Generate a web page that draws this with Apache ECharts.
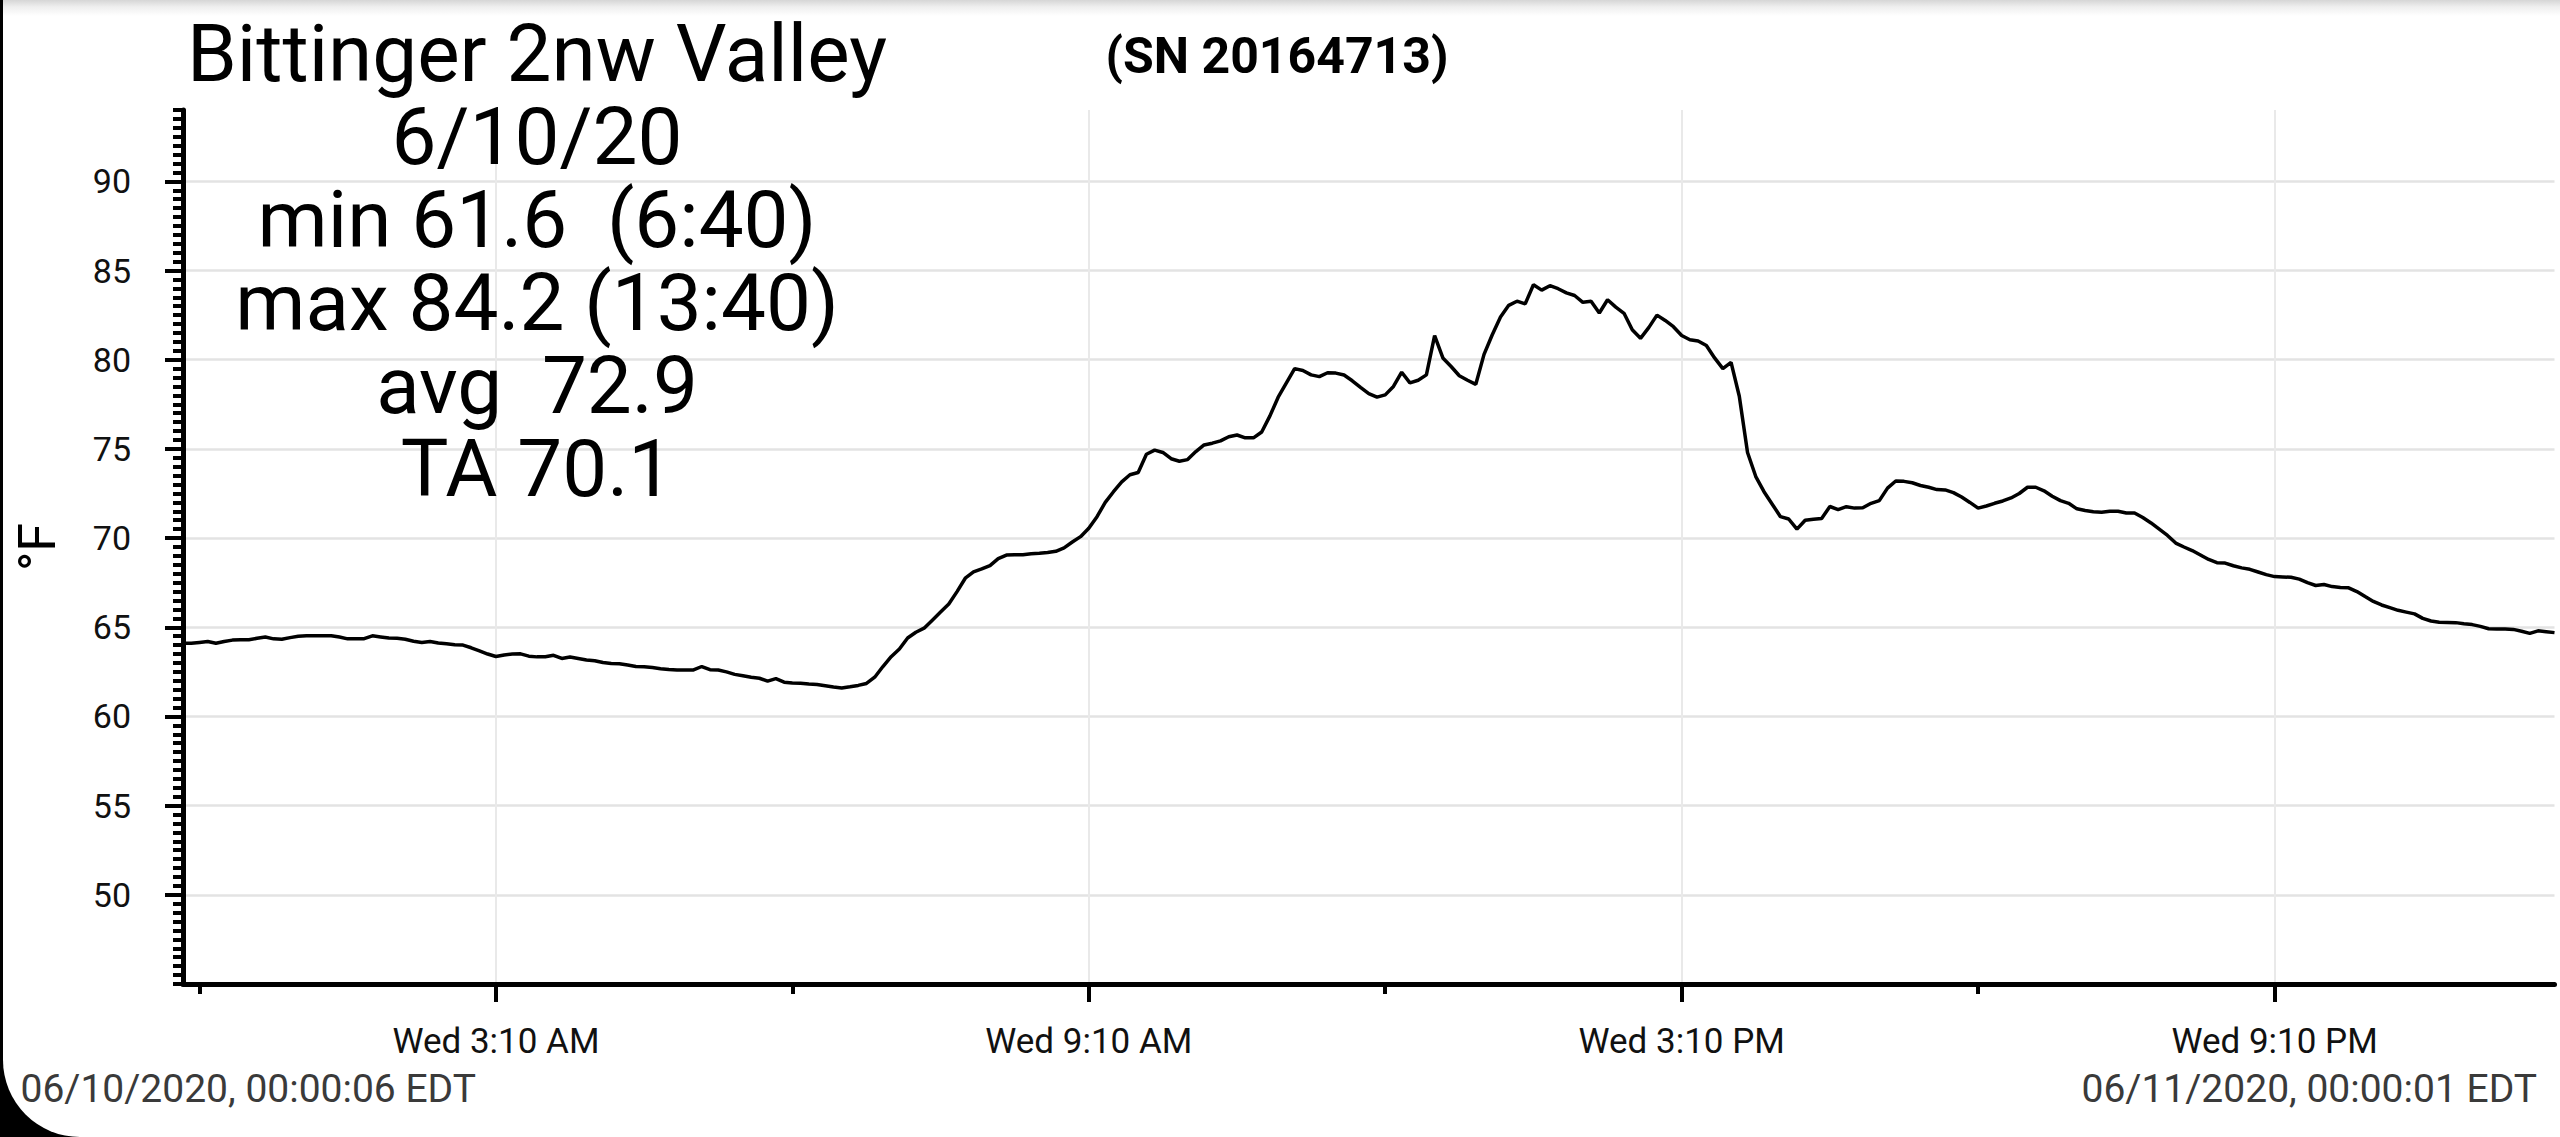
<!DOCTYPE html>
<html>
<head>
<meta charset="utf-8">
<script src="https://cdn.jsdelivr.net/npm/echarts@6/dist/echarts.min.js"></script>
<style>
  html, body { margin: 0; padding: 0; width: 2560px; height: 1137px; overflow: hidden; background: #000; }
  #chart {
    position: absolute; left: 3px; top: 0; width: 2557px; height: 1137px;
    background: linear-gradient(to bottom, #d6d6d6 0px, #efefef 7px, #ffffff 16px);
    border-bottom-left-radius: 77px; overflow: hidden;
  }
</style>
</head>
<body>
<div id="chart"></div>
<script>
// ---- data ----
const SAMPLE_STEP_MIN = 5;           // readings every 5 minutes, 00:00 .. 24:00
const TEMPS = [
  64.1, 64.1, 64.15, 64.2, 64.1, 64.2, 64.28, 64.3, 64.3, 64.38, 64.45, 64.35,
  64.33, 64.42, 64.5, 64.52, 64.52, 64.52, 64.52, 64.45, 64.35, 64.35, 64.36, 64.52,
  64.46, 64.4, 64.38, 64.33, 64.22, 64.15, 64.2, 64.12, 64.07, 64.02, 64.0, 63.85,
  63.68, 63.5, 63.36, 63.45, 63.5, 63.51, 63.38, 63.34, 63.35, 63.43, 63.25, 63.33,
  63.25, 63.17, 63.12, 63.02, 62.97, 62.95, 62.88, 62.8, 62.78, 62.74, 62.68, 62.63,
  62.6, 62.6, 62.61, 62.8, 62.62, 62.6, 62.5, 62.36, 62.28, 62.2, 62.14, 61.98,
  62.12, 61.92, 61.88, 61.86, 61.82, 61.79, 61.72, 61.65, 61.6, 61.66, 61.74, 61.85,
  62.2, 62.8, 63.35, 63.78, 64.4, 64.72, 64.95, 65.4, 65.85, 66.3, 67.0, 67.75,
  68.1, 68.27, 68.46, 68.85, 69.05, 69.06, 69.07, 69.12, 69.15, 69.19, 69.26, 69.45,
  69.78, 70.08, 70.55, 71.2, 72.0, 72.6, 73.15, 73.55, 73.68, 74.7, 74.93, 74.8,
  74.45, 74.31, 74.4, 74.85, 75.22, 75.32, 75.45, 75.68, 75.78, 75.62, 75.62, 75.95,
  76.85, 77.9, 78.7, 79.5, 79.4, 79.15, 79.05, 79.27, 79.25, 79.14, 78.82, 78.45,
  78.1, 77.9, 78.03, 78.5, 79.3, 78.7, 78.85, 79.15, 81.35, 80.1, 79.62, 79.1,
  78.85, 78.62, 80.3, 81.4, 82.4, 83.05, 83.28, 83.13, 84.2, 83.9, 84.15, 83.98,
  83.75, 83.6, 83.22, 83.28, 82.62, 83.36, 82.95, 82.6, 81.68, 81.2, 81.8, 82.5,
  82.2, 81.85, 81.36, 81.12, 81.05, 80.8, 80.1, 79.5, 79.85, 77.95, 74.8, 73.45,
  72.6, 71.9, 71.2, 71.07, 70.5, 71.0, 71.06, 71.1, 71.77, 71.6, 71.76, 71.68,
  71.7, 71.95, 72.1, 72.8, 73.2, 73.18, 73.1, 72.95, 72.85, 72.72, 72.7, 72.55,
  72.3, 72.0, 71.68, 71.8, 71.95, 72.08, 72.25, 72.5, 72.85, 72.85, 72.65, 72.35,
  72.1, 71.95, 71.64, 71.55, 71.48, 71.45, 71.5, 71.5, 71.41, 71.41, 71.15, 70.85,
  70.5, 70.15, 69.72, 69.5, 69.3, 69.05, 68.8, 68.62, 68.6, 68.45, 68.33, 68.25,
  68.1, 67.95, 67.84, 67.82, 67.8, 67.7, 67.5, 67.34, 67.4, 67.28, 67.23, 67.21,
  67.0, 66.72, 66.45, 66.25, 66.1, 65.95, 65.85, 65.75, 65.5, 65.35, 65.28, 65.27,
  65.26, 65.2, 65.15, 65.05, 64.92, 64.9, 64.9, 64.88, 64.78, 64.66, 64.8, 64.75,
  64.7
];
const Y_LABEL_TICKS = [50, 55, 60, 65, 70, 75, 80, 85, 90];
const X_LABEL_MINUTES = [190, 550, 910, 1270];
const X_LABELS = ['Wed 3:10 AM', 'Wed 9:10 AM', 'Wed 3:10 PM', 'Wed 9:10 PM'];
const X_MINOR_MINUTES = [10, 370, 730, 1090];
const STAT_LINES = ['Bittinger 2nw Valley', '6/10/20', 'min 61.6  (6:40)', 'max 84.2 (13:40)', 'avg  72.9', 'TA 70.1'];
const SERIAL_TEXT = '(SN 20164713)';
const START_STAMP = '06/10/2020, 00:00:06 EDT';
const END_STAMP = '06/11/2020, 00:00:01 EDT';
const Y_NAME = '°F';

// ---- chart ----
const FONT = 'Roboto';
const seriesData = TEMPS.map((v, i) => [i * SAMPLE_STEP_MIN, v]);

const chart = echarts.init(document.getElementById('chart'), null, { renderer: 'svg' });

chart.setOption({
  animation: false,
  backgroundColor: 'transparent',
  textStyle: { fontFamily: FONT },
  grid: { left: 179, right: 5.5, top: 110, bottom: 153, containLabel: false },
  xAxis: [
    {
      type: 'value', min: 0, max: 1440, position: 'bottom',
      axisLine: { show: true, lineStyle: { color: '#000', width: 5 } },
      axisTick: { show: true, customValues: X_LABEL_MINUTES, length: 18, lineStyle: { color: '#000', width: 4 } },
      axisLabel: {
        show: true, customValues: X_LABEL_MINUTES, margin: 40, fontSize: 35, color: '#111', fontFamily: FONT,
        formatter: v => X_LABELS[X_LABEL_MINUTES.indexOf(v)] || ''
      },
      splitLine: { show: true, lineStyle: { color: '#e9e9e9', width: 2 } }
    },
    {
      type: 'value', min: 0, max: 1440, position: 'bottom',
      axisLine: { show: false },
      axisTick: { show: true, customValues: X_MINOR_MINUTES, length: 10, lineStyle: { color: '#000', width: 4 } },
      axisLabel: { show: false },
      splitLine: { show: false }
    }
  ],
  yAxis: [
    {
      type: 'value', min: 45, max: 94, position: 'left',
      name: Y_NAME, nameLocation: 'middle', nameRotate: 90, nameGap: 120,
      nameTextStyle: { fontSize: 52, color: '#000', fontFamily: FONT },
      axisLine: { show: true, lineStyle: { color: '#000', width: 5 } },
      axisTick: { show: true, customValues: Y_LABEL_TICKS, length: 18, lineStyle: { color: '#000', width: 4 } },
      axisLabel: { show: true, customValues: Y_LABEL_TICKS, margin: 52, fontSize: 34, color: '#111', fontFamily: FONT },
      splitLine: { show: true, lineStyle: { color: '#e3e3e3', width: 2.5 } }
    },
    {
      type: 'value', min: 45, max: 94, interval: 0.5, position: 'left',
      axisLine: { show: false },
      axisTick: { show: true, length: 10, lineStyle: { color: '#000', width: 4 } },
      axisLabel: { show: false },
      splitLine: { show: false }
    }
  ],
  series: [{
    type: 'line',
    xAxisIndex: 0, yAxisIndex: 0,
    data: seriesData,
    showSymbol: false,
    symbol: 'none',
    lineStyle: { color: '#000', width: 3.5 },
    z: 5
  }],
  graphic: [
    { type: 'text', x: 534, y: 12.5, z: 100, silent: true,
      style: { text: STAT_LINES.join('\n'), fontFamily: FONT, fontSize: 80, lineHeight: 83, fill: '#000', align: 'center', verticalAlign: 'top' } },
    { type: 'text', x: 1274, y: 56, z: 100, silent: true,
      style: { text: SERIAL_TEXT, fontFamily: FONT, fontWeight: 'bold', fontSize: 50, fill: '#000', align: 'center', verticalAlign: 'middle' } },
    { type: 'text', x: 17.5, y: 1089, z: 100, silent: true,
      style: { text: START_STAMP, fontFamily: FONT, fontSize: 39, fill: '#3a3a3a', align: 'left', verticalAlign: 'middle' } },
    { type: 'text', x: 2534, y: 1089, z: 100, silent: true,
      style: { text: END_STAMP, fontFamily: FONT, fontSize: 39, fill: '#3a3a3a', align: 'right', verticalAlign: 'middle' } }
  ]
});
</script>
</body>
</html>
